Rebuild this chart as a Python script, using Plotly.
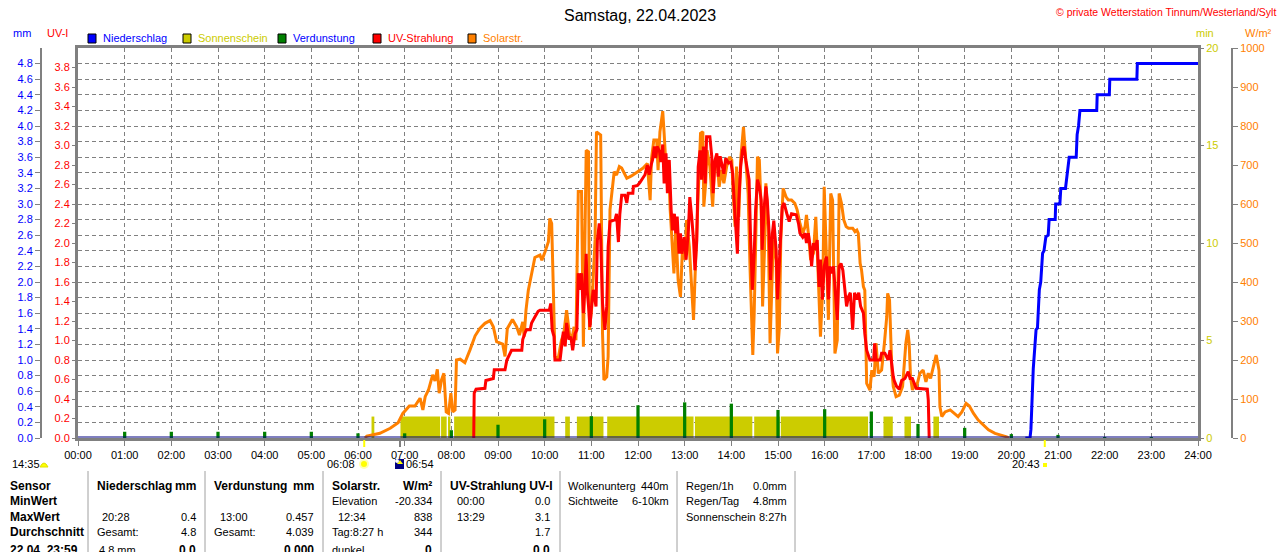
import plotly.graph_objects as go

stunden = list(range(25))
stunden_text = [f"{h:02d}:00" for h in stunden]

niederschlag_t = [20.30, 20.40, 20.42, 20.435, 20.46, 20.47, 20.51, 20.53, 20.56, 20.58, 20.60,
                  20.63, 20.65, 20.67, 20.70, 20.74, 20.79, 20.81, 20.94, 20.95, 21.04, 21.06,
                  21.16, 21.20, 21.24, 21.39, 21.41, 21.44, 21.47, 21.83, 21.84, 22.10, 22.11,
                  22.69, 22.70, 24.0]
niederschlag_mm = [0, 0, 0.11, 0.40, 0.70, 0.89, 1.22, 1.39, 1.41, 1.71, 1.90,
                   2.00, 2.20, 2.37, 2.40, 2.58, 2.60, 2.80, 2.80, 3.00, 3.00, 3.20,
                   3.20, 3.40, 3.60, 3.60, 3.89, 4.00, 4.20, 4.20, 4.40, 4.40, 4.60,
                   4.60, 4.80, 4.80]

sonne_start = [6.29, 6.91, 7.78, 7.94, 8.06, 10.44, 10.69, 11.34, 13.22, 14.49, 15.06, 17.26, 17.71, 18.33]
sonne_ende = [6.35, 7.76, 7.90, 7.98, 10.21, 10.54, 11.26, 13.19, 14.45, 15.04, 16.93, 17.46, 17.85, 18.45]
sonne_min = [1.1] * len(sonne_start)

verdunstung_h = list(range(1, 24))
verdunstung_mm = [0.08, 0.08, 0.08, 0.08, 0.08, 0.06, 0.06, 0.10, 0.17, 0.24, 0.28, 0.42,
                  0.457, 0.44, 0.36, 0.37, 0.34, 0.18, 0.13, 0.05, 0.04, 0.01, 0.01]

uv_t = [8.48, 8.49, 8.53, 8.72, 8.74, 8.90, 8.92, 9.15, 9.19, 9.29, 9.51, 9.53, 9.58, 9.61, 9.69,
        9.72, 9.79, 9.86, 9.90, 10.10, 10.13, 10.16, 10.20, 10.22, 10.33, 10.40, 10.44, 10.47,
        10.52, 10.56, 10.60, 10.65, 10.69, 10.72, 10.76, 10.79, 10.83, 10.86, 10.89, 10.91, 10.94,
        10.97, 11.01, 11.04, 11.10, 11.13, 11.17, 11.20, 11.24, 11.29, 11.33, 11.36, 11.40, 11.51,
        11.54, 11.58, 11.61, 11.65, 11.72, 11.76, 11.79, 11.89, 11.90, 11.99, 12.04, 12.15, 12.20,
        12.24, 12.28, 12.31, 12.35, 12.38, 12.41, 12.46, 12.49, 12.53, 12.56, 12.60, 12.63, 12.67,
        12.71, 12.74, 12.78, 12.81, 12.84, 12.88, 12.91, 12.94, 12.99, 13.03, 13.08, 13.11, 13.15,
        13.19, 13.22, 13.26, 13.29, 13.33, 13.36, 13.40, 13.44, 13.47, 13.54, 13.58, 13.61, 13.65,
        13.69, 13.72, 13.76, 13.79, 13.84, 13.88, 13.94, 13.99, 14.03, 14.06, 14.09, 14.13, 14.16,
        14.20, 14.24, 14.27, 14.31, 14.35, 14.38, 14.41, 14.45, 14.49, 14.52, 14.56, 14.60, 14.64,
        14.66, 14.70, 14.74, 14.77, 14.81, 14.84, 14.88, 14.91, 14.96, 14.99, 15.02, 15.06, 15.09,
        15.13, 15.19, 15.24, 15.29, 15.39, 15.44, 15.47, 15.53, 15.58, 15.61, 15.65, 15.69, 15.72,
        15.76, 15.79, 15.84, 15.88, 15.91, 15.95, 15.99, 16.04, 16.08, 16.11, 16.15, 16.19, 16.24,
        16.27, 16.31, 16.35, 16.39, 16.44, 16.47, 16.51, 16.55, 16.60, 16.64, 16.69, 16.73, 16.77,
        16.83, 16.86, 16.90, 16.97, 17.05, 17.07, 17.10, 17.19, 17.22, 17.29, 17.36, 17.40, 17.44,
        17.47, 17.49, 17.54, 17.60, 17.65, 17.72, 17.79, 17.83, 17.88, 17.96, 18.20, 18.22, 18.24]
uv_index = [0.0, 0.46, 0.50, 0.51, 0.59, 0.61, 0.70, 0.70, 0.80, 0.90, 0.90, 1.01, 1.08, 1.11, 1.11,
            1.18, 1.24, 1.30, 1.31, 1.31, 1.38, 1.11, 1.04, 0.80, 0.80, 1.09, 0.94, 1.18,
            1.01, 1.04, 0.90, 1.07, 1.11, 1.69, 1.52, 1.69, 1.28, 1.52, 1.89, 1.52, 1.35,
            1.14, 1.38, 1.52, 1.35, 2.03, 2.20, 2.03, 1.38, 1.11, 1.35, 1.96, 2.22, 2.24,
            2.30, 2.01, 2.29, 2.49, 2.49, 2.41, 2.51, 2.51, 2.58, 2.59, 2.62, 2.70, 2.80,
            2.70, 2.80, 2.85, 2.99, 2.87, 2.99, 2.94, 2.83, 3.01, 2.61, 2.92, 2.51, 2.85,
            2.34, 2.13, 2.30, 2.10, 2.27, 1.89, 2.10, 1.89, 2.06, 1.83, 2.13, 2.47, 2.27,
            2.03, 1.72, 2.03, 2.78, 2.95, 2.65, 2.99, 2.61, 3.09, 3.09, 2.89, 2.51, 2.85,
            2.92, 2.68, 2.89, 2.82, 2.71, 2.87, 2.82, 2.83, 2.71, 2.44, 2.17, 1.89, 2.44,
            2.78, 2.95, 2.99, 2.85, 2.75, 2.65, 2.10, 1.52, 1.89, 2.34, 2.65, 2.58, 2.44,
            1.93, 2.34, 2.58, 2.44, 2.10, 1.62, 2.10, 2.23, 1.93, 1.42, 1.76, 2.10, 2.37,
            2.41, 2.30, 2.22, 2.30, 2.29, 2.20, 2.10, 2.06, 2.10, 2.00, 2.10, 1.96, 1.76,
            2.00, 1.93, 2.03, 1.55, 1.83, 1.42, 1.76, 1.86, 1.42, 1.76, 1.69, 1.76, 1.42,
            1.21, 1.76, 1.79, 1.72, 1.52, 1.35, 1.45, 1.49, 1.11, 1.49, 1.42, 1.49, 1.35,
            1.28, 1.07, 0.90, 0.80, 0.80, 0.97, 0.80, 0.80, 0.87, 0.87, 0.80, 0.90, 0.70,
            0.63, 0.59, 0.53, 0.50, 0.59, 0.61, 0.68, 0.61, 0.61, 0.51, 0.50, 0.39, 0.0]

solar_t = [6.15, 6.19, 6.47, 6.69, 6.86, 6.96, 7.10, 7.22, 7.33, 7.39, 7.44, 7.51, 7.60, 7.65, 7.70,
           7.74, 7.79, 7.84, 7.89, 7.94, 7.99, 8.03, 8.08, 8.11, 8.19, 8.29, 8.40, 8.51, 8.61, 8.72,
           8.83, 8.90, 8.97, 9.10, 9.15, 9.20, 9.31, 9.40, 9.46, 9.53, 9.56, 9.60, 9.65, 9.72, 9.79,
           9.90, 9.94, 10.01, 10.08, 10.11, 10.15, 10.19, 10.22, 10.29, 10.36, 10.41, 10.47, 10.53,
           10.58, 10.63, 10.67, 10.72, 10.79, 10.83, 10.89, 10.94, 10.96, 11.01, 11.08, 11.11, 11.20,
           11.24, 11.27, 11.33, 11.36, 11.40, 11.44, 11.49, 11.54, 11.60, 11.65, 11.76, 11.86, 12.01,
           12.11, 12.20, 12.26, 12.29, 12.34, 12.40, 12.43, 12.47, 12.53, 12.56, 12.60, 12.65, 12.69,
           12.74, 12.77, 12.81, 12.86, 12.91, 12.96, 13.01, 13.04, 13.10, 13.15, 13.19, 13.22, 13.27,
           13.31, 13.34, 13.39, 13.41, 13.45, 13.48, 13.54, 13.60, 13.64, 13.69, 13.74, 13.79, 13.84,
           13.90, 13.96, 14.01, 14.04, 14.08, 14.11, 14.16, 14.20, 14.26, 14.29, 14.33, 14.36, 14.40,
           14.44, 14.46, 14.49, 14.53, 14.56, 14.60, 14.64, 14.67, 14.71, 14.74, 14.79, 14.83, 14.86,
           14.90, 14.96, 14.99, 15.03, 15.06, 15.11, 15.17, 15.22, 15.29, 15.36, 15.41, 15.47, 15.53,
           15.58, 15.61, 15.65, 15.70, 15.76, 15.81, 15.86, 15.91, 15.96, 15.99, 16.04, 16.08, 16.13,
           16.17, 16.22, 16.27, 16.31, 16.36, 16.41, 16.46, 16.51, 16.60, 16.65, 16.69, 16.72, 16.76,
           16.79, 16.83, 16.86, 16.90, 16.97, 17.01, 17.06, 17.10, 17.15, 17.22, 17.28, 17.33, 17.35,
           17.39, 17.44, 17.47, 17.53, 17.60, 17.67, 17.71, 17.74, 17.78, 17.81, 17.84, 17.88, 17.94,
           17.97, 18.04, 18.11, 18.17, 18.22, 18.27, 18.33, 18.39, 18.45, 18.47, 18.51, 18.58, 18.69,
           18.79, 18.86, 18.94, 19.03, 19.10, 19.19, 19.29, 19.40, 19.51, 19.65, 19.79, 19.90, 19.95]
solar_w = [0, 5, 12, 25, 39, 63, 82, 82, 102, 72, 106, 123, 162, 146, 176,
           115, 149, 166, 67, 63, 115, 67, 72, 200, 202, 193, 226, 262, 281, 294,
           301, 285, 247, 241, 209, 281, 304, 285, 264, 298, 260, 328, 379, 422, 463,
           469, 456, 478, 503, 563, 550, 362, 209, 204, 251, 268, 328, 268,
           251, 285, 251, 632, 632, 234, 738, 734, 277, 337, 508, 785, 777,
           268, 149, 157, 209, 585, 636, 683, 674, 696, 692, 666, 672, 683,
           692, 704, 610, 717, 764, 764, 687, 785, 838, 781, 696, 713, 585,
           482, 422, 542, 405, 362, 508, 456, 559, 490, 388, 303, 405, 567,
           713, 781, 785, 593, 653, 738, 696, 593, 696, 713, 644, 687, 653,
           696, 721, 713, 627, 542, 696, 567, 713, 798, 747, 679, 627, 439,
           277, 213, 320, 525, 721, 713, 585, 337, 482, 653, 542, 243, 371,
           508, 456, 217, 285, 508, 640, 619, 610, 610, 602, 585, 550, 525,
           542, 572, 525, 456, 474, 567, 422, 260, 388, 644, 456, 303, 627,
           610, 217, 251, 627, 602, 559, 542, 538, 538, 529, 533, 525, 448,
           431, 388, 379, 140, 123, 174, 157, 243, 166, 174, 243, 311, 371,
           354, 174, 132, 106, 110, 132, 192, 243, 277, 243, 157, 123, 140,
           132, 166, 174, 144, 166, 153, 183, 213, 174, 80, 55, 67, 72,
           63, 55, 67, 89, 82, 63, 46, 33, 21, 12, 8, 3, 0]

# Ereignisse unter der Zeitachse (Sonnenaufgang / -untergang usw.)
ereignis_zeit = ["06:08", "06:54", "20:43"]
ereignis_farbe = ["#FFFF00", "#808080", "#FFFF00"]

mm_ticks = [round(i * 0.2, 1) for i in range(25)]
uv_ticks = [round(i * 0.2, 1) for i in range(20)]

# --- Farben / Geometrie ---
BLAU, GELB, GRUEN, ROT, ORANGE, GRAU = "#0000FF", "#CCCC00", "#008000", "#FF0000", "#FF8000", "#808080"
FONT = "Liberation Sans"
W, H = 1280, 552


def px(x):
    return x / W


def py(y):
    return 1 - y / H


def hhmm(s):
    h, m = s.split(":")
    return int(h) + int(m) / 60


fig = go.Figure()

# Sonnenschein (min) - unterste Ebene
fig.add_trace(go.Bar(
    x=sonne_start, y=sonne_min,
    width=[e - s for s, e in zip(sonne_start, sonne_ende)], offset=0,
    marker=dict(color=GELB, line=dict(width=0)),
    yaxis="y", name="Sonnenschein",
))

# Solarstrahlung (W/m²)
fig.add_trace(go.Scatter(
    x=solar_t, y=solar_w, mode="lines", line=dict(color=ORANGE, width=3),
    yaxis="y2", name="Solarstr.",
))

# UV-Strahlung
fig.add_trace(go.Scatter(
    x=uv_t, y=uv_index, mode="lines", line=dict(color=ROT, width=3),
    yaxis="y3", name="UV-Strahlung",
))

# Verdunstung und Niederschlag (mm) - oberste Ebene
fig.add_trace(go.Bar(
    x=verdunstung_h, y=verdunstung_mm, width=0.07,
    marker=dict(color=GRUEN, line=dict(width=0)),
    yaxis="y4", name="Verdunstung",
))
fig.add_trace(go.Scatter(
    x=niederschlag_t, y=niederschlag_mm, mode="lines", line=dict(color=BLAU, width=3),
    yaxis="y4", name="Niederschlag",
))

tick_font = dict(family=FONT, size=11)
dom_y = [py(438), py(48)]

fig.update_layout(
    width=W, height=H,
    margin=dict(l=0, r=0, t=0, b=0),
    paper_bgcolor="white", plot_bgcolor="white",
    showlegend=False, barmode="overlay",
    font=dict(family=FONT, size=11, color="black"),
    xaxis=dict(
        domain=[px(78), px(1198)], range=[0, 24],
        tickvals=stunden, ticktext=stunden_text,
        ticks="outside", ticklen=5, tickcolor=GRAU,
        showline=True, linecolor=GRAU, linewidth=3, mirror=True,
        showgrid=True, gridcolor=GRAU, gridwidth=1, griddash="4px,3px",
        zeroline=False, tickfont=dict(tick_font, color="black"),
        automargin=False, anchor="y",
    ),
    yaxis=dict(
        domain=dom_y, range=[0, 20], side="right", anchor="x",
        tickvals=[0, 5, 10, 15, 20], ticks="outside", ticklen=3, tickcolor=GRAU,
        showline=True, linecolor=GRAU, linewidth=3, mirror=True,
        showgrid=False, zeroline=False, tickfont=dict(tick_font, color=GELB),
        automargin=False,
    ),
    yaxis2=dict(
        overlaying="y", anchor="free", position=px(1232), side="right",
        range=[0, 1000], tickvals=list(range(0, 1001, 100)),
        ticks="outside", ticklen=5, tickcolor=GRAU,
        showline=True, linecolor=GRAU, linewidth=2,
        showgrid=False, zeroline=False, tickfont=dict(tick_font, color=ORANGE),
        automargin=False,
    ),
    yaxis3=dict(
        overlaying="y", anchor="x", side="left", range=[0, 4],
        tickvals=uv_ticks, tickformat=".1f",
        ticks="outside", ticklen=5, tickcolor=GRAU,
        showline=False, showgrid=False, zeroline=False,
        tickfont=dict(tick_font, color=ROT), automargin=False,
    ),
    yaxis4=dict(
        overlaying="y", anchor="free", position=px(41), side="left", range=[0, 5],
        tickvals=mm_ticks, tickformat=".1f",
        ticks="outside", ticklen=5, tickcolor=GRAU,
        showline=True, linecolor=GRAU, linewidth=2,
        showgrid=True, gridcolor=GRAU, gridwidth=1, griddash="4px,3px",
        zeroline=False, tickfont=dict(tick_font, color=BLAU), automargin=False,
    ),
)

shapes = []
annotations = []


def text(x, y, s, color="black", size=11, anchor="left", bold=False):
    annotations.append(dict(
        x=px(x), y=py(y), xref="paper", yref="paper", text=f"<b>{s}</b>" if bold else s,
        showarrow=False, xanchor=anchor, yanchor="middle",
        font=dict(family=FONT, size=size, color=color),
    ))


# Titel & Copyright
text(640, 15, "Samstag, 22.04.2023", size=16, anchor="center")
text(1278, 12, "© private Wetterstation Tinnum/Westerland/Sylt", color=ROT, size=10.5, anchor="right")

# Achsentitel
text(22, 33, "mm", color=BLAU, anchor="center")
text(57, 33, "UV-I", color=ROT, anchor="center")
text(1205, 33, "min", color=GELB, anchor="center")
text(1258, 33, "W/m²", color=ORANGE, anchor="center")

# Legende
legende = [("Niederschlag", BLAU, BLAU, 88), ("Sonnenschein", GELB, GELB, 183),
           ("Verdunstung", GRUEN, BLAU, 278), ("UV-Strahlung", ROT, ROT, 373),
           ("Solarstr.", ORANGE, ORANGE, 468)]
for name, box, col, x in legende:
    shapes.append(dict(type="rect", xref="paper", yref="paper",
                       x0=px(x), x1=px(x + 8), y0=py(43), y1=py(34),
                       fillcolor=box, line=dict(color="black", width=1)))
    text(x + 13, 38, name, color=col)

# Ereignis-Markierungen an der Zeitachse
for zeit, farbe in zip(ereignis_zeit, ereignis_farbe):
    shapes.append(dict(type="line", xref="x", yref="paper",
                       x0=hhmm(zeit), x1=hhmm(zeit), y0=py(440), y1=py(447),
                       line=dict(color=farbe, width=2)))

# Grundlinie
shapes.append(dict(type="line", xref="paper", yref="paper", x0=px(78), x1=px(1198),
                   y0=py(437), y1=py(437), line=dict(color="#000080", width=1)))

# Symbole unter der Achse
text(10, 464, "14:35")
shapes.append(dict(type="path", xref="paper", yref="paper",
                   path=f"M {px(40)} {py(467)} Q {px(44)} {py(459)} {px(48)} {py(467)} Z",
                   fillcolor="#FFFF00", line=dict(color="#E0E000", width=1)))
text(357, 464, "06:08", anchor="right")
shapes.append(dict(type="circle", xref="paper", yref="paper",
                   x0=px(359), x1=px(369), y0=py(469), y1=py(459),
                   fillcolor="#FFFFB0", line=dict(width=0)))
shapes.append(dict(type="circle", xref="paper", yref="paper",
                   x0=px(361), x1=px(367), y0=py(467), y1=py(461),
                   fillcolor="#FFFF00", line=dict(width=0)))
shapes.append(dict(type="rect", xref="paper", yref="paper",
                   x0=px(395), x1=px(404), y0=py(469), y1=py(459),
                   fillcolor="#000080", line=dict(width=0)))
shapes.append(dict(type="path", xref="paper", yref="paper",
                   path=f"M {px(397)} {py(464)} L {px(400)} {py(460)} L {px(403)} {py(464)} Z",
                   fillcolor="#FFFF00", line=dict(width=0)))
shapes.append(dict(type="circle", xref="paper", yref="paper",
                   x0=px(395), x1=px(399), y0=py(463), y1=py(459),
                   fillcolor="white", line=dict(width=0)))
text(404, 464, "06:54")
text(1010, 464, "20:43")
shapes.append(dict(type="rect", xref="paper", yref="paper",
                   x0=px(1043), x1=px(1047), y0=py(467), y1=py(463),
                   fillcolor="#FFFF00", line=dict(width=0)))

# Tabelle
zeilen_y = [486, 501, 517, 532, 550]
for y, s in zip(zeilen_y, ["Sensor", "MinWert", "MaxWert", "Durchschnitt", "22.04. 23:59"]):
    text(8, y, s, bold=True, size=12)

for x in [88, 205, 323, 441, 560, 677, 795]:
    shapes.append(dict(type="line", xref="paper", yref="paper", x0=px(x), x1=px(x),
                       y0=py(471), y1=0, line=dict(color="#A0A0A0", width=1)))

tabelle = [
    # (x, zeile, text, anchor, fett)
    (95, 0, "Niederschlag", "left", True), (198, 0, "mm", "right", True),
    (100, 2, "20:28", "left", False), (198, 2, "0.4", "right", False),
    (95, 3, "Gesamt:", "left", False), (198, 3, "4.8", "right", False),
    (97, 4, "4.8 mm", "left", False), (198, 4, "0.0", "right", True),
    (212, 0, "Verdunstung", "left", True), (316, 0, "mm", "right", True),
    (218, 2, "13:00", "left", False), (316, 2, "0.457", "right", False),
    (212, 3, "Gesamt:", "left", False), (316, 3, "4.039", "right", False),
    (316, 4, "0.000", "right", True),
    (330, 0, "Solarstr.", "left", True), (434, 0, "W/m²", "right", True),
    (330, 1, "Elevation", "left", False), (434, 1, "-20.334", "right", False),
    (336, 2, "12:34", "left", False), (434, 2, "838", "right", False),
    (330, 3, "Tag:8:27 h", "left", False), (434, 3, "344", "right", False),
    (330, 4, "dunkel", "left", False), (434, 4, "0", "right", True),
    (448, 0, "UV-Strahlung UV-I", "left", True),
    (455, 1, "00:00", "left", False), (552, 1, "0.0", "right", False),
    (455, 2, "13:29", "left", False), (552, 2, "3.1", "right", False),
    (552, 3, "1.7", "right", False), (552, 4, "0.0", "right", True),
    (566, 0, "Wolkenunterg", "left", False), (671, 0, "440m", "right", False),
    (566, 1, "Sichtweite", "left", False), (671, 1, "6-10km", "right", False),
    (684, 0, "Regen/1h", "left", False), (789, 0, "0.0mm", "right", False),
    (684, 1, "Regen/Tag", "left", False), (789, 1, "4.8mm", "right", False),
    (684, 2, "Sonnenschein", "left", False), (789, 2, "8:27h", "right", False),
]
for x, z, s, anc, fett in tabelle:
    text(x, zeilen_y[z], s, anchor=anc, bold=fett, size=12 if fett else 11)

fig.update_layout(shapes=shapes, annotations=annotations)
fig.write_html("out.html", config={"displayModeBar": False},
               post_script="document.body.style.margin='0';")
